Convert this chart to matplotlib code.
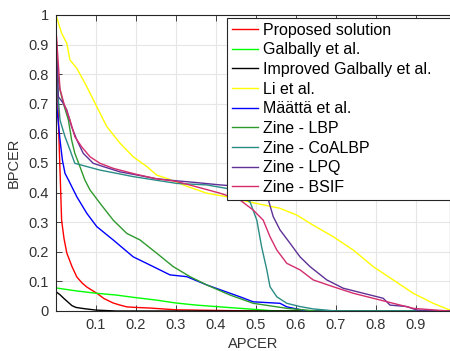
import numpy as np
import matplotlib
matplotlib.use("Agg")
import matplotlib.pyplot as plt

### DATA ###

labels = ["Proposed solution", "Galbally et al.", "Improved Galbally et al.", "Li et al.",
          "M\u00e4\u00e4tt\u00e4 et al.", "Zine - LBP", "Zine - CoALBP", "Zine - LPQ", "Zine - BSIF"]
colors = ["#ff0000", "#00ff00", "#000000", "#ffff00", "#0000ff",
          "#2e9a2e", "#2a8c86", "#5e3196", "#d42d6e"]

proposed_x = [0.0, 0.003, 0.007, 0.010, 0.014, 0.020, 0.027, 0.040, 0.052, 0.065, 0.077, 0.090, 0.102,
              0.120, 0.143, 0.160, 0.177, 0.200, 0.235, 0.300, 0.400, 0.500, 0.985]
proposed_y = [0.98, 0.80, 0.60, 0.476, 0.307, 0.245, 0.196, 0.150, 0.115, 0.095, 0.081, 0.070, 0.060,
              0.042, 0.027, 0.020, 0.014, 0.012, 0.010, 0.004, 0.002, 0.0, 0.0]

galbally_x = [0.0, 0.010, 0.050, 0.100, 0.150, 0.200, 0.250, 0.300, 0.350, 0.400, 0.450, 0.500, 0.550, 0.985]
galbally_y = [0.078, 0.076, 0.068, 0.060, 0.054, 0.045, 0.037, 0.027, 0.020, 0.015, 0.010, 0.005, 0.0, 0.0]

improved_x = [0.0, 0.010, 0.020, 0.030, 0.040, 0.050, 0.070, 0.100, 0.150, 0.985]
improved_y = [0.065, 0.055, 0.042, 0.030, 0.018, 0.012, 0.008, 0.003, 0.0, 0.0]

li_x = [0.0, 0.014, 0.027, 0.035, 0.052, 0.077, 0.102, 0.127, 0.160, 0.193, 0.227, 0.252, 0.281,
        0.330, 0.377, 0.427, 0.481, 0.560, 0.602, 0.643, 0.693, 0.743, 0.793, 0.843, 0.893, 0.943, 0.985]
li_y = [1.0, 0.939, 0.904, 0.848, 0.820, 0.758, 0.690, 0.623, 0.567, 0.521, 0.488, 0.459, 0.446,
        0.420, 0.398, 0.386, 0.369, 0.347, 0.324, 0.290, 0.251, 0.206, 0.150, 0.105, 0.060, 0.026, 0.003]

maatta_x = [0.0, 0.002, 0.010, 0.016, 0.0225, 0.031, 0.052, 0.077, 0.102, 0.143, 0.193, 0.243, 0.285,
            0.327, 0.377, 0.435, 0.460, 0.493, 0.560, 0.577, 0.627, 0.985]
maatta_y = [0.80, 0.69, 0.578, 0.51, 0.465, 0.443, 0.386, 0.330, 0.285, 0.240, 0.183, 0.150, 0.122,
            0.116, 0.088, 0.060, 0.048, 0.031, 0.026, 0.014, 0.0, 0.0]

lbp_x = [0.0, 0.006, 0.010, 0.018, 0.031, 0.039, 0.047, 0.060, 0.072, 0.085, 0.110, 0.143, 0.177, 0.210,
         0.252, 0.293, 0.335, 0.377, 0.435, 0.493, 0.577, 0.650, 0.985]
lbp_y = [0.90, 0.78, 0.747, 0.703, 0.645, 0.578, 0.533, 0.487, 0.443, 0.409, 0.364, 0.307, 0.262, 0.240,
         0.195, 0.150, 0.116, 0.088, 0.054, 0.026, 0.009, 0.0, 0.0]

coalbp_x = [0.0, 0.002, 0.010, 0.0225, 0.035, 0.047, 0.077, 0.110, 0.152, 0.193, 0.250, 0.302, 0.377,
            0.427, 0.485, 0.502, 0.514, 0.527, 0.535, 0.552, 0.577, 0.610, 0.643, 0.700, 0.985]
coalbp_y = [0.88, 0.78, 0.645, 0.589, 0.544, 0.499, 0.488, 0.476, 0.465, 0.454, 0.442, 0.431, 0.426,
            0.414, 0.369, 0.307, 0.217, 0.139, 0.082, 0.048, 0.026, 0.015, 0.007, 0.0, 0.0]

lpq_x = [0.0, 0.006, 0.018, 0.027, 0.039, 0.052, 0.068, 0.093, 0.118, 0.160, 0.200, 0.250, 0.300,
         0.350, 0.410, 0.470, 0.520, 0.531, 0.543, 0.560, 0.585, 0.610, 0.635, 0.677, 0.718, 0.768,
         0.818, 0.835, 0.877, 0.902, 0.985]
lpq_y = [0.93, 0.724, 0.702, 0.679, 0.623, 0.578, 0.533, 0.499, 0.488, 0.470, 0.460, 0.447, 0.440,
         0.434, 0.426, 0.420, 0.410, 0.375, 0.319, 0.274, 0.229, 0.183, 0.150, 0.105, 0.077, 0.060,
         0.043, 0.020, 0.015, 0.003, 0.0]

bsif_x = [0.0, 0.010, 0.020, 0.035, 0.047, 0.064, 0.085, 0.110, 0.143, 0.200, 0.250, 0.300, 0.350,
          0.410, 0.460, 0.493, 0.518, 0.535, 0.552, 0.577, 0.610, 0.643, 0.693, 0.743, 0.793, 0.843,
          0.893, 0.950, 0.985]
bsif_y = [0.95, 0.75, 0.70, 0.645, 0.589, 0.555, 0.521, 0.499, 0.482, 0.462, 0.447, 0.438, 0.420,
          0.398, 0.375, 0.341, 0.307, 0.251, 0.206, 0.161, 0.139, 0.105, 0.082, 0.060, 0.043, 0.026,
          0.009, 0.003, 0.0]

curves = [(proposed_x, proposed_y), (galbally_x, galbally_y), (improved_x, improved_y), (li_x, li_y),
          (maatta_x, maatta_y), (lbp_x, lbp_y), (coalbp_x, coalbp_y), (lpq_x, lpq_y), (bsif_x, bsif_y)]

### PLOT ###

plt.rcParams['font.family'] = ['Liberation Sans', 'DejaVu Sans']

fig = plt.figure(figsize=(4.5, 3.51), dpi=100)
ax = fig.add_axes([56 / 450, 40 / 351, 394 / 450, 296 / 351])

for (xs, ys), lab, col in zip(curves, labels, colors):
    ax.plot(xs, ys, color=col, lw=1.0, label=lab)

ax.set_xlim(0, 0.985)
ax.set_ylim(0, 1)
ax.set_xticks(np.arange(0.1, 0.95, 0.1))
ax.set_xticklabels([f"{v:.1f}" for v in np.arange(0.1, 0.95, 0.1)])
ax.set_yticks(np.arange(0, 1.05, 0.1))
ax.set_yticklabels(["0"] + [f"{v:.1f}" for v in np.arange(0.1, 0.95, 0.1)] + ["1"])

ax.grid(True, color="#e6e6e6", linewidth=0.8)
ax.set_axisbelow(True)
ax.tick_params(direction="in", length=4, width=0.6, colors="#262626", labelsize=10.5,
               labelcolor="#333333", top=True, right=False, pad=5)
for s in ax.spines.values():
    s.set_color("#262626")
    s.set_linewidth(0.8)

ax.set_xlabel("APCER", fontsize=10.5, color="#333333", labelpad=4)
ax.set_ylabel("BPCER", fontsize=10.5, color="#333333", labelpad=6)

leg = ax.legend(loc="upper left", bbox_to_anchor=(227 / 450, 0, 0.6, 1 - 18 / 351),
                bbox_transform=fig.transFigure, mode="expand", fontsize=11.5, frameon=True,
                fancybox=False, handlelength=1.65, handletextpad=0.28, labelspacing=0.29,
                borderpad=0.3, borderaxespad=0)
leg.get_frame().set_edgecolor("#262626")
leg.get_frame().set_linewidth(0.8)
leg.get_frame().set_alpha(1)

plt.savefig("out.png", dpi=100)
